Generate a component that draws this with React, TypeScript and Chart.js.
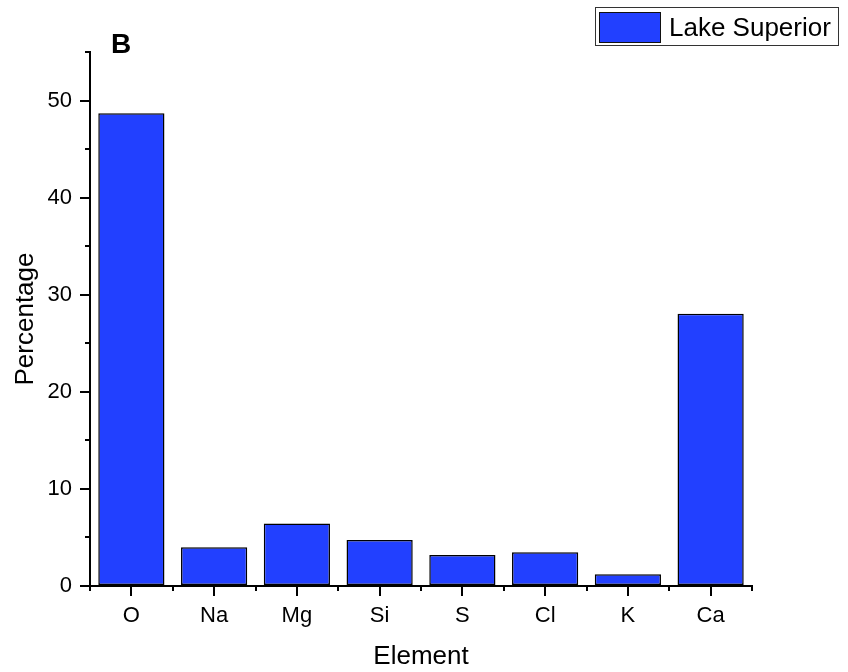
import React, { useEffect, useRef } from 'react';
import { Chart, registerables } from 'chart.js';

Chart.register(...registerables);

const CATEGORIES = ['O', 'Na', 'Mg', 'Si', 'S', 'Cl', 'K', 'Ca'];
const LAKE_SUPERIOR = [48.7, 3.98, 6.45, 4.73, 3.2, 3.47, 1.2, 28.05];
const Y_TICKS = [0, 10, 20, 30, 40, 50];
const Y_MINOR = [5, 15, 25, 35, 45, 55];
const SERIES_LABEL = 'Lake Superior';
const PANEL_LABEL = 'B';
const X_TITLE = 'Element';
const Y_TITLE = 'Percentage';

const FONT = '"Liberation Sans", Arial, sans-serif';
const BAR_COLOR = '#2240FF';

const overlayPlugin = {
  id: 'overlay',
  afterDraw(chart: any) {
    const ctx = chart.ctx;
    const x = chart.scales.x;
    const y = chart.scales.y;
    const area = chart.chartArea;
    ctx.save();
    ctx.strokeStyle = '#000';
    ctx.lineWidth = 2;
    // minor y ticks
    Y_MINOR.forEach((v) => {
      const py = Math.round(y.getPixelForValue(v));
      ctx.beginPath();
      ctx.moveTo(area.left - 5, py);
      ctx.lineTo(area.left, py);
      ctx.stroke();
    });
    // minor x ticks at category boundaries
    for (let i = 0; i <= CATEGORIES.length; i++) {
      const px = Math.round(x.getPixelForValue(i - 0.5));
      ctx.beginPath();
      ctx.moveTo(px, area.bottom);
      ctx.lineTo(px, area.bottom + 5);
      ctx.stroke();
    }
    // panel label
    ctx.fillStyle = '#000';
    ctx.font = `bold 28px ${FONT}`;
    ctx.textAlign = 'left';
    ctx.textBaseline = 'alphabetic';
    ctx.fillText(PANEL_LABEL, 111, 53);
    // legend
    ctx.lineWidth = 1;
    ctx.strokeStyle = '#333';
    ctx.fillStyle = '#fff';
    ctx.fillRect(595.5, 7.5, 243, 38);
    ctx.strokeRect(595.5, 7.5, 243, 38);
    ctx.fillStyle = BAR_COLOR;
    ctx.fillRect(599.5, 12.5, 61, 30);
    ctx.strokeStyle = '#111';
    ctx.strokeRect(599.5, 12.5, 61, 30);
    ctx.fillStyle = '#000';
    ctx.font = `26px ${FONT}`;
    ctx.textBaseline = 'alphabetic';
    ctx.fillText(SERIES_LABEL, 669, 36);
    ctx.restore();
  },
};

export default function App() {
  const canvasRef = useRef<HTMLCanvasElement | null>(null);

  useEffect(() => {
    const canvas = canvasRef.current;
    if (!canvas) return;
    Chart.defaults.font.family = FONT;
    Chart.defaults.color = '#000';
    const chart = new Chart(canvas, {
      type: 'bar',
      data: {
        labels: CATEGORIES,
        datasets: [
          {
            label: SERIES_LABEL,
            data: LAKE_SUPERIOR,
            backgroundColor: BAR_COLOR,
            borderColor: '#000',
            borderWidth: 1.5,
            borderSkipped: false,
            barPercentage: 0.8,
            categoryPercentage: 1.0,
          },
        ],
      },
      options: {
        responsive: false,
        animation: false,
        layout: { padding: { top: 52, right: 96, left: 0, bottom: 0 } },
        plugins: {
          legend: { display: false },
          tooltip: { enabled: false },
        },
        scales: {
          x: {
            type: 'category',
            offset: true,
            grid: {
              display: true,
              drawOnChartArea: false,
              drawTicks: true,
              tickLength: 10,
              offset: false,
              color: '#000',
              lineWidth: 2,
            },
            border: { display: true, color: '#000', width: 2 },
            ticks: { font: { size: 22 }, color: '#000', padding: 7, maxRotation: 0 },
            title: {
              display: true,
              text: X_TITLE,
              font: { size: 26 },
              color: '#000',
              padding: { top: 0, bottom: 0 },
            },
            afterFit: (scale: any) => {
              scale.height = 86;
            },
          },
          y: {
            type: 'linear',
            min: 0,
            max: 55,
            grid: {
              display: true,
              drawOnChartArea: false,
              drawTicks: true,
              tickLength: 10,
              color: '#000',
              lineWidth: 2,
            },
            border: { display: true, color: '#000', width: 2 },
            ticks: { font: { size: 22 }, color: '#000', padding: 8 },
            afterBuildTicks: (scale: any) => {
              scale.ticks = Y_TICKS.map((v) => ({ value: v }));
            },
            title: {
              display: true,
              text: Y_TITLE,
              font: { size: 26 },
              color: '#000',
              padding: { top: 10, bottom: 0 },
            },
            afterFit: (scale: any) => {
              scale.width = 90;
            },
          },
        },
      },
      plugins: [overlayPlugin],
    });
    return () => chart.destroy();
  }, []);

  return (
    <div style={{ position: 'fixed', left: 0, top: 0, width: 848, height: 672, background: '#fff' }}>
      <canvas ref={canvasRef} width={848} height={672} style={{ width: 848, height: 672, display: 'block' }} />
    </div>
  );
}
